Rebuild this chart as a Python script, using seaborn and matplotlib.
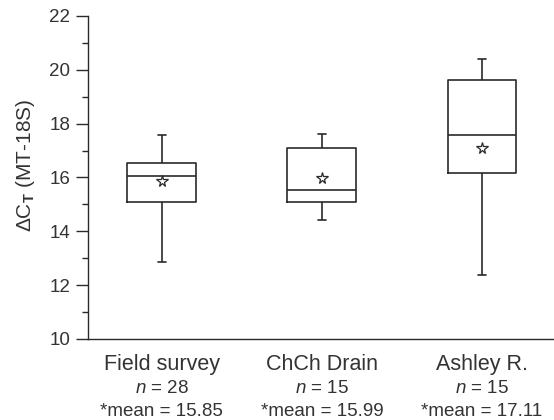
import numpy as np
import pandas as pd
import seaborn as sns
import matplotlib.pyplot as plt
from matplotlib.ticker import MultipleLocator
from matplotlib.transforms import blended_transform_factory

# --- datos ---
categories = ["Field survey", "ChCh Drain", "Ashley R."]
n_vals = [28, 15, 15]
means = [15.85, 15.99, 17.11]
whisker_low = [12.85, 14.42, 12.38]
q1 = [15.07, 15.07, 16.18]
median = [16.07, 15.52, 17.56]
q3 = [16.55, 17.08, 19.62]
whisker_high = [17.58, 17.63, 20.40]

# cinco valores por grupo -> con whis=(0, 100) seaborn dibuja exactamente esos cuartiles
rows = []
for i, cat in enumerate(categories):
    for v in [whisker_low[i], q1[i], median[i], q3[i], whisker_high[i]]:
        rows.append({"site": cat, "dct": v})
df = pd.DataFrame(rows)

sns.set_style("ticks")
plt.rcParams["font.family"] = ["Liberation Sans", "DejaVu Sans"]
plt.rcParams["mathtext.fontset"] = "custom"
plt.rcParams["mathtext.rm"] = "Liberation Sans"
plt.rcParams["mathtext.it"] = "Liberation Sans:italic"
plt.rcParams["mathtext.bf"] = "Liberation Sans:bold"

ink = "#2a2a2a"
txt = "#333333"

fig = plt.figure(figsize=(5.54, 4.2), dpi=100)
ax = fig.add_axes([0.159, 0.193, 0.841, 0.769])

sns.boxplot(
    data=df, x="site", y="dct", order=categories, ax=ax,
    whis=(0, 100), width=0.43, fill=False, color=ink, linewidth=1.2,
    capwidths=0.05,
)

# medias con asterisco
ax.plot(range(len(categories)), means, linestyle="none", marker="*", ms=8.5,
        mfc="white", mec=ink, mew=0.9, zorder=5)

ax.set_ylim(10, 22)
ax.set_xlim(-0.46, 2.45)
ax.yaxis.set_major_locator(MultipleLocator(2))
ax.yaxis.set_minor_locator(MultipleLocator(1))
ax.tick_params(axis="y", which="major", length=9, width=1, color=ink,
               labelsize=13.5, labelcolor=txt, pad=4)
ax.tick_params(axis="y", which="minor", length=4.5, width=1, color=ink)
ax.tick_params(axis="x", length=0, labelsize=15.5, labelcolor=txt, pad=11)

sns.despine(ax=ax)
for s in ["left", "bottom"]:
    ax.spines[s].set_color(ink)
    ax.spines[s].set_linewidth(1)

ax.set_xlabel("")
ax.set_ylabel("ΔC$_\\mathbf{T}$ (MT-18S)", fontsize=15, color=txt)
ax.yaxis.set_label_coords(-0.11, 0.539)

trans = blended_transform_factory(ax.transData, ax.transAxes)
for i in range(len(categories)):
    ax.text(i, -0.153, f"$n$ = {n_vals[i]}", transform=trans, ha="center",
            va="center", fontsize=13.5, color=txt)
    ax.text(i, -0.226, f"*mean = {means[i]:.2f}", transform=trans, ha="center",
            va="center", fontsize=13.5, color=txt)

fig.savefig("out.png", dpi=100)
